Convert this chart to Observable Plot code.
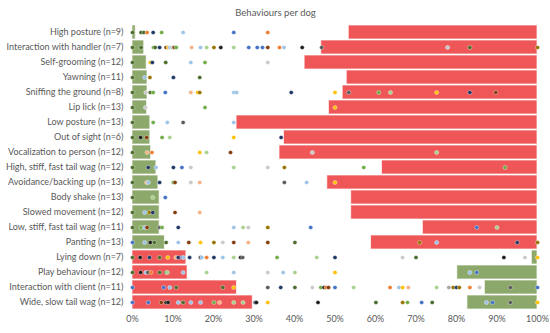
<!DOCTYPE html>
<html><head><meta charset="utf-8">
<script src="https://cdn.jsdelivr.net/npm/d3@7"></script>
<script src="https://cdn.jsdelivr.net/npm/@observablehq/plot@0.6"></script>
<style>body{margin:0;background:#fff;} svg{display:block;}</style>
</head><body><div id="chart"></div>
<script>
const title = "Behaviours per dog";
const behaviours = [
  "High posture (n=9)", "Interaction with handler (n=7)", "Self-grooming (n=12)", "Yawning (n=11)",
  "Sniffing the ground (n=8)", "Lip lick (n=13)", "Low posture (n=13)", "Out of sight (n=6)",
  "Vocalization to person (n=12)", "High, stiff, fast tail wag (n=12)", "Avoidance/backing up (n=13)",
  "Body shake (n=13)", "Slowed movement (n=12)", "Low, stiff, fast tail wag (n=11)", "Panting (n=13)",
  "Lying down (n=7)", "Play behaviour (n=12)", "Interaction with client (n=11)", "Wide, slow tail wag (n=12)"
];
// left segment: 0 -> leftEnd ; right segment: rightStart -> 100 (percent)
const leftEnd    = [0.8, 2.9, 3.5, 3.7, 3.7, 3.6, 4.4, 4.4, 4.6, 5.9, 6.4, 6.7, 6.7, 6.7, 8.0, 13.3, 13.6, 25.8, 29.7];
const rightStart = [53.4, 46.6, 42.5, 52.9, 51.9, 48.5, 25.7, 37.4, 36.3, 61.6, 48.1, 54.0, 54.0, 71.7, 58.9, 98.6, 80.2, 87.0, 82.7];
const leftGroup  = ["G","G","G","G","G","G","G","G","G","G","G","G","G","G","G","R","R","R","R"];
const groupKeys = ["G", "R"];
const groupColors = ["#8DA86B", "#EF5657"];

const dogKeys   = ["dg","or","bl","ye","lb","gr","db","br","gy","bk","lg","dy","lo","ol","lgy"];
const dogColors = ["#4B6B2D","#ED7D31","#4472C4","#FFC000","#9DC3E6","#70AD47","#203864","#843C0C","#A5A5A5","#1E1E1E","#A9D18E","#5A5A5A","#F4B183","#997300","#C9C9C9"];

const dogDots = [
  [[0,"dg"],[2.1,"dg"],[2.8,"dg"],[3.6,"or"],[5.1,"db"],[7.2,"gr"],[12.5,"lb"],[25,"bl"],[33.4,"or"]],
  [[0,"dg"],[2.1,"dg"],[5.2,"gr"],[5.6,"dg"],[6.7,"db"],[8.3,"br"],[8.8,"ye"],[9.2,"lb"],[9.7,"lgy"],[10.3,"br"],[10.8,"gr"],[14.6,"lo"],[16.8,"lb"],[18.3,"lg"],[20.1,"ol"],[21.8,"bk"],[25,"lg"],[28.7,"bl"],[30.8,"bl"],[32.1,"bl"],[33.4,"br"],[36.3,"or"],[37.4,"lb"],[41.9,"bk"],[46.7,"dy"],[77.8,"lgy"],[83.3,"dg"],[100,"ol"]],
  [[0,"dg"],[4.4,"ye"],[4.9,"db"],[8.2,"dg"],[14.4,"lb"],[17.9,"gr"],[33.4,"lgy"]],
  [[0,"dg"],[3.0,"lb"],[4.3,"ol"],[10.1,"db"],[16.6,"dg"]],
  [[0,"dg"],[3.3,"lgy"],[4.4,"dg"],[5.1,"gr"],[8.1,"bl"],[14.4,"lo"],[16.1,"ye"],[16.6,"ol"],[25,"lb"],[25.7,"lb"],[39.2,"db"],[50,"ye"],[53.4,"dy"],[60.8,"gr"],[63.7,"lg"],[75.1,"ye"],[83.3,"db"],[89.7,"br"]],
  [[0,"dg"],[3.2,"lgy"],[17.9,"gr"],[50,"ye"]],
  [[0,"dg"],[5.1,"gr"],[8.6,"lb"],[12.5,"dy"],[25,"lb"]],
  [[0,"dg"],[2.0,"bk"],[3.5,"br"],[7.3,"gr"],[9.2,"lg"],[25,"ye"],[36.7,"db"]],
  [[0,"dg"],[3.6,"lo"],[4.8,"or"],[16.6,"ye"],[18.3,"lg"],[24.2,"br"],[44.4,"lgy"],[75.1,"lg"]],
  [[0,"dg"],[3.9,"db"],[5.8,"lb"],[10.1,"db"],[12.2,"bl"],[14.4,"lgy"],[25,"lg"],[33.4,"lgy"],[37.5,"ol"],[57.1,"gr"],[92.0,"gr"]],
  [[0,"dg"],[3.5,"lo"],[3.9,"lb"],[6.7,"db"],[10.1,"gr"],[10.5,"br"],[14.4,"lgy"],[16.6,"lo"],[37.5,"dy"],[43.0,"lb"],[50,"ye"]],
  [[0,"dg"],[5.0,"lg"],[8.1,"bl"]],
  [[0,"dg"],[3.0,"lb"],[4.2,"ol"],[5.0,"db"],[10.5,"br"],[16.6,"lo"]],
  [[0,"dg"],[2.1,"gr"],[3.0,"lb"],[3.6,"br"],[6.7,"dy"],[7.3,"gr"],[11.3,"db"],[25,"lb"],[27.3,"lg"],[28.6,"lgy"],[33.4,"ol"],[44.0,"bl"],[85.0,"bl"],[90.0,"lg"]],
  [[0,"bl"],[3.0,"lb"],[4.4,"bk"],[5.4,"dg"],[8.3,"dg"],[11.3,"lb"],[13.9,"br"],[16.8,"ye"],[20.1,"ol"],[22.3,"lgy"],[25,"br"],[28.6,"lo"],[33.4,"br"],[40.1,"dg"],[70.9,"ol"],[75.1,"lb"],[95.0,"db"],[100,"ol"]],
  [[0,"dg"],[1.9,"bk"],[4.2,"db"],[6.7,"dg"],[8.7,"ye"],[10.7,"lo"],[11.3,"db"],[12.3,"bl"],[12.6,"lb"],[14.1,"db"],[16.8,"bk"],[17.1,"lb"],[18.3,"or"],[20.1,"db"],[22.3,"lb"],[25,"lg"],[26.7,"bk"],[27.2,"dy"],[35.7,"gr"],[45.5,"lg"],[50,"db"],[66.7,"lgy"],[70.0,"dg"],[91.7,"bk"],[96.9,"lgy"],[100,"ye"]],
  [[0,"dg"],[2.0,"bk"],[3.3,"lb"],[3.8,"dy"],[4.6,"or"],[6.7,"dg"],[8.3,"dg"],[8.6,"lg"],[12.5,"lb"],[18.3,"lg"],[25,"lb"],[33.4,"lgy"],[37.2,"lb"],[40.1,"lg"],[50,"ye"],[83.3,"lb"],[85.0,"bl"]],
  [[0,"bl"],[7.7,"bl"],[9.2,"lb"],[10.8,"dg"],[22.3,"dg"],[25,"ye"],[33.4,"dy"],[36.6,"db"],[40.1,"dg"],[44.4,"lgy"],[46.5,"gr"],[47.3,"bk"],[47.8,"or"],[48.4,"br"],[50,"bl"],[54.6,"lg"],[63.6,"or"],[65.8,"lb"],[66.7,"ye"],[68.1,"lo"],[75.1,"lg"],[78.1,"gy"],[79.2,"ol"],[80.0,"db"],[80.7,"ol"],[83.3,"or"],[85.7,"lgy"],[93.3,"dy"],[100,"bl"]],
  [[0,"bl"],[3.9,"bl"],[7.1,"br"],[8.3,"bk"],[8.8,"bk"],[11.3,"lb"],[12.5,"dg"],[14.4,"lb"],[16.8,"lb"],[20.1,"gr"],[21.5,"lo"],[25,"lg"],[27.3,"lg"],[30.3,"db"],[30.6,"bk"],[33.4,"ye"],[45.8,"bk"],[60.1,"dg"],[66.7,"ol"],[67.9,"gr"],[71.4,"bl"],[74.0,"dg"],[87.4,"lb"],[88.9,"bl"],[93.3,"dy"],[100,"ye"]]
];
const xTicks = [0,10,20,30,40,50,60,70,80,90,100];

const bars = [];
behaviours.forEach((b, i) => {
  const other = leftGroup[i] === "G" ? "R" : "G";
  bars.push({b, x1: 0, x2: leftEnd[i], g: leftGroup[i]});
  bars.push({b, x1: rightStart[i], x2: 100, g: other});
});
const dots = [];
behaviours.forEach((b, i) => dogDots[i].forEach(([v, c]) => dots.push({b, v, c})));

const font = "Lato, 'Open Sans', sans-serif";
const chart = Plot.plot({
  width: 550, height: 333,
  marginLeft: 132, marginRight: 13, marginTop: 23, marginBottom: 22,
  style: {fontFamily: font, fontSize: "9px", color: "#595959", background: "#fff"},
  x: {domain: [0, 100], ticks: xTicks, tickFormat: d => d + "%", tickSize: 0, tickPadding: 4, label: null},
  y: {domain: behaviours, padding: 0.06, tickSize: 0, tickPadding: 9, label: null},
  color: {type: "ordinal", domain: groupKeys.concat(dogKeys), range: groupColors.concat(dogColors)},
  marks: [
    Plot.barX(bars, {y: "b", x1: "x1", x2: "x2", fill: "g", stroke: "#fff", strokeOpacity: 0.7, strokeWidth: 1}),
    Plot.dot(dots, {y: "b", x: "v", fill: "c", r: 2.1, stroke: "#fff", strokeWidth: 0.5, strokeOpacity: 0.7}),
    Plot.text([title], {frameAnchor: "top", dx: -59.5, dy: -14, text: d => d, fontSize: 9.5, fill: "#595959"})
  ]
});
document.getElementById("chart").appendChild(chart);
</script>
</body></html>
